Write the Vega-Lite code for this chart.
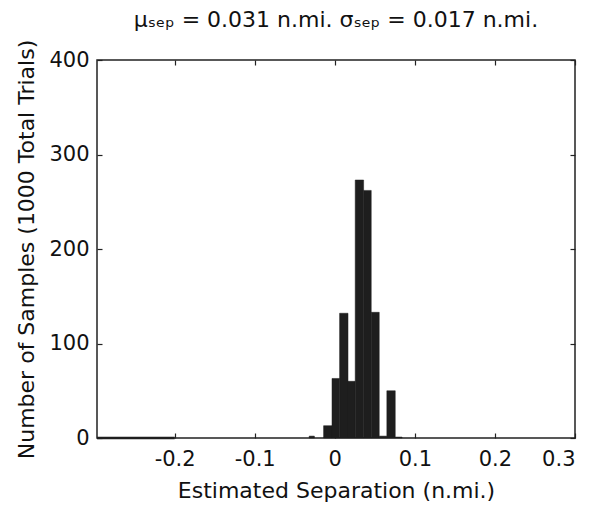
{
  "$schema": "https://vega.github.io/schema/vega-lite/v6.json",
  "width": 478,
  "height": 378,
  "autosize": {"type": "none"},
  "padding": {"left": 97, "top": 60, "right": 35, "bottom": 69},
  "background": "white",
  "config": {
    "font": "DejaVu Sans",
    "view": {"stroke": "#222", "strokeWidth": 1.5},
    "axis": {
      "grid": false,
      "domain": false,
      "tickSize": -5,
      "tickColor": "#222",
      "tickWidth": 1.2,
      "labelFont": "DejaVu Sans",
      "labelFontSize": 21,
      "labelColor": "#111",
      "titleFont": "DejaVu Sans",
      "titleFontSize": 22,
      "titleFontWeight": "normal",
      "titleColor": "#111"
    }
  },
  "title": {
    "text": "μₛₑₚ = 0.031 n.mi.  σₛₑₚ = 0.017 n.mi.",
    "font": "DejaVu Sans",
    "fontSize": 22,
    "fontWeight": "normal",
    "color": "#111",
    "anchor": "middle",
    "offset": 7
  },
  "datasets": {
    "bins": [
      {"x0": -0.032, "x1": -0.0255, "count": 2},
      {"x0": -0.014, "x1": -0.0035, "count": 13},
      {"x0": -0.0035, "x1": 0.006, "count": 63},
      {"x0": 0.006, "x1": 0.0165, "count": 132},
      {"x0": 0.0165, "x1": 0.0255, "count": 60},
      {"x0": 0.0255, "x1": 0.036, "count": 273},
      {"x0": 0.036, "x1": 0.0455, "count": 262},
      {"x0": 0.0455, "x1": 0.0555, "count": 133},
      {"x0": 0.0555, "x1": 0.065, "count": 2},
      {"x0": 0.065, "x1": 0.0755, "count": 50},
      {"x0": 0.0755, "x1": 0.084, "count": 1}
    ],
    "edge": [
      {"x0": -0.297, "x1": -0.2, "count": 0}
    ]
  },
  "layer": [
    {
      "data": {"name": "bins"},
      "mark": {"type": "bar", "color": "#1e1e1e", "stroke": "#1e1e1e", "strokeWidth": 0.5},
      "encoding": {
        "x": {
          "field": "x0", "type": "quantitative",
          "scale": {"domain": [-0.297, 0.3], "nice": false, "zero": false},
          "axis": {
            "values": [-0.2, -0.1, 0, 0.1, 0.2, 0.3],
            "labelExpr": "'' + datum.value",
            "labelPadding": 15,
            "title": "Estimated Separation (n.mi.)",
            "titleBaseline": "alphabetic",
            "titleY": 59
          }
        },
        "x2": {"field": "x1"},
        "y": {
          "field": "count", "type": "quantitative",
          "scale": {"domain": [0, 400], "nice": false},
          "axis": {
            "values": [0, 100, 200, 300, 400],
            "labelPadding": 13,
            "title": "Number of Samples (1000 Total Trials)",
            "titleBaseline": "alphabetic",
            "titleX": -64
          }
        },
        "y2": {"datum": 0}
      }
    },
    {
      "data": {"name": "edge"},
      "mark": {"type": "rule", "color": "#1e1e1e", "strokeWidth": 2.5},
      "encoding": {
        "x": {"field": "x0", "type": "quantitative", "axis": null},
        "x2": {"field": "x1"},
        "y": {"field": "count", "type": "quantitative", "axis": null}
      }
    },
    {
      "data": {"name": "bins"},
      "mark": {"type": "bar", "opacity": 0},
      "encoding": {
        "x": {
          "field": "x0", "type": "quantitative",
          "axis": {"orient": "top", "values": [-0.2, -0.1, 0, 0.1, 0.2, 0.3], "labels": false, "title": null}
        },
        "x2": {"field": "x1"},
        "y": {
          "field": "count", "type": "quantitative",
          "axis": {"orient": "right", "values": [0, 100, 200, 300, 400], "labels": false, "title": null}
        },
        "y2": {"datum": 0}
      }
    }
  ],
  "resolve": {"axis": {"x": "independent", "y": "independent"}}
}
